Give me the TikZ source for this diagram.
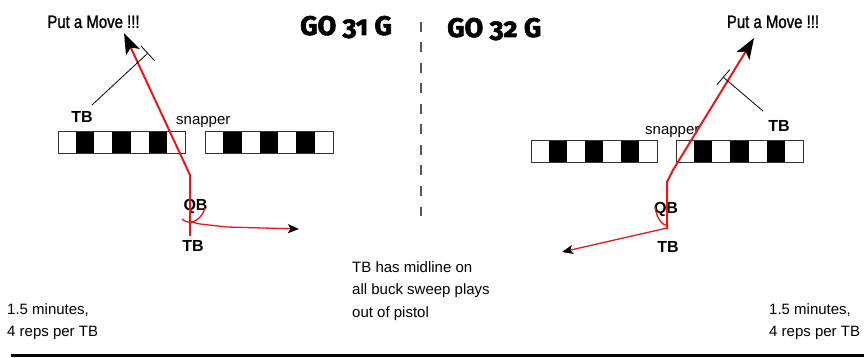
\documentclass[tikz,border=0pt]{standalone}
\usepackage{fontspec}
\setmainfont{Liberation Sans}
\newfontfamily\narrowfont[FakeStretch=0.83,FakeBold=1.2]{Liberation Sans}
\newfontfamily\titlefont[Numbers=OldStyle,BoldFeatures={FakeBold=2.2}]{Fira Sans}
\usetikzlibrary{arrows.meta}
\definecolor{routered}{RGB}{228,24,24}
\definecolor{dashgray}{RGB}{85,85,85}
\newcommand\olblock[3]{%
  \foreach \i in {0,...,6}{%
    \pgfmathsetmacro\xa{#1+(#2-#1)*\i/7}%
    \pgfmathsetmacro\xb{#1+(#2-#1)*(\i+1)/7}%
    \pgfmathtruncatemacro\odd{mod(\i,2)}%
    \ifnum\odd=1 \fill[black] (\xa,#3) rectangle (\xb,#3+22);\fi
  }%
  \draw[line width=1pt,black!80] (#1,#3) rectangle (#2,#3+22);%
}
\begin{document}
\begin{tikzpicture}[x=1pt,y=-1pt,
  lbl/.style={inner sep=0pt,font=\fontsize{15}{18}\selectfont},
  bold/.style={inner sep=0pt,font=\fontsize{16}{18}\selectfont\bfseries},
  movelbl/.style={inner sep=0pt,font=\fontsize{18}{20}\narrowfont},
  title/.style={inner sep=0pt,font=\fontsize{27}{30}\titlefont\bfseries},
  route/.style={draw=routered,line width=2pt,line join=round},
  thinroute/.style={draw=routered,line width=1.3pt,line join=round},
  bigtip/.style={-{Stealth[black,length=21pt,width=15pt,inset=5pt]}},
  smalltip/.style={-{Stealth[black,length=11pt,width=9pt,inset=2.5pt]}},
  blockline/.style={draw=black,line width=0.8pt,-{Bar[width=20pt,line width=0.8pt]}}]
\useasboundingbox (0,0) rectangle (864,358);

% titles and divider
\node[title,anchor=base west] (t31) at (300,35) {GO 31 G};
\node[title,anchor=base west] (t32) at (447,37) {GO 32 G};
\coordinate (dtop) at (421,22);
\coordinate (dbot) at (421,216);
\draw[dashgray,line width=2pt,dash pattern=on 10pt off 10.5pt] (dtop) -- (dbot);

% ---------- left play ----------
\olblock{58}{185}{132}
\olblock{205}{333}{132}
\node[movelbl,anchor=base] (moveL) at (93.5,28) {Put a Move !!!};
\node[bold,anchor=base] (tbL1) at (82,123) {TB};
\node[lbl,anchor=base west] (snapL) at (176,125) {snapper};
\node[bold,anchor=base] (qbL) at (195.5,210) {QB};
\node[bold,anchor=base] (tbL2) at (193,251) {TB};
\coordinate (rL0) at (190,236);
\coordinate (rL1) at (190,175);
\coordinate (rL2) at (124,33);
\draw[route,bigtip] (rL0) -- (rL1) -- (rL2);
\coordinate (bL0) at (92,105);
\coordinate (bL1) at (148,53);
\draw[blockline] (bL0) -- (bL1);
\coordinate (aL0) at (182,219);
\coordinate (aL1) at (205,208);
\draw[thinroute] (aL0) .. controls (188,225) and (200,223) .. (aL1);
\coordinate (hL0) at (191,222);
\coordinate (hL1) at (227,227);
\coordinate (hL2) at (299,229);
\draw[thinroute,smalltip] (hL0) -- (200,224) -- (hL1) -- (hL2);

% ---------- right play ----------
\olblock{531}{657}{141}
\olblock{676}{803}{141}
\node[movelbl,anchor=base] (moveR) at (773,28) {Put a Move !!!};
\node[bold,anchor=base] (tbR1) at (779,132) {TB};
\node[lbl,anchor=base west] (snapR) at (645,135) {snapper};
\node[bold,anchor=base] (qbR) at (666,213) {QB};
\node[bold,anchor=base] (tbR2) at (668,252) {TB};
\coordinate (rR0) at (667,229);
\coordinate (rR1) at (667,182);
\coordinate (rR2) at (673,170);
\coordinate (rR3) at (754,38);
\draw[route,bigtip] (rR0) -- (rR1) -- (rR2) -- (rR3);
\coordinate (bR0) at (763,111);
\coordinate (bR1) at (723,77);
\draw[blockline] (bR0) -- (bR1);
\coordinate (aR0) at (655,207);
\coordinate (aR1) at (668,226);
\draw[thinroute] (aR0) .. controls (657,219) and (662,225) .. (aR1);
\coordinate (hR0) at (667,228);
\coordinate (hR1) at (562,252);
\draw[thinroute,smalltip] (hR0) -- (hR1);

% ---------- notes (base anchor = last line) ----------
\node[lbl,anchor=base west,align=left] (midnote) at (352,317)
  {TB has midline on\\[4.5pt]all buck sweep plays\\[4.5pt]out of pistol};
\node[lbl,anchor=base west,align=left] (noteL) at (7,336) {1.5 minutes,\\[4pt]4 reps per TB};
\node[lbl,anchor=base west,align=left] (noteR) at (769,336) {1.5 minutes,\\[4pt]4 reps per TB};

\coordinate (bl0) at (11,355.5);
\coordinate (bl1) at (864,355.5);
\draw[line width=3.5pt,black] (bl0) -- (bl1);
\end{tikzpicture}
\end{document}
